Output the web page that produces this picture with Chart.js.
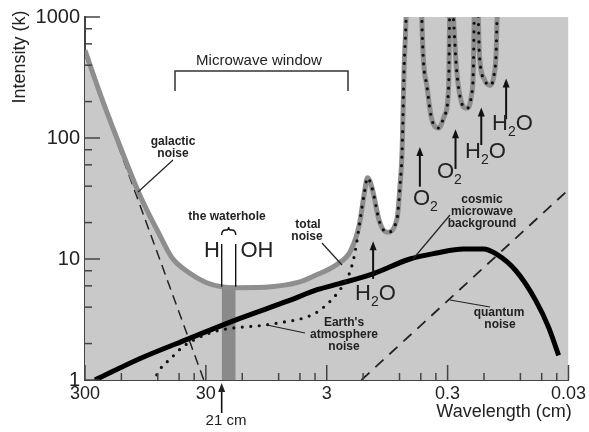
<!DOCTYPE html>
<html>
<head>
<meta charset="utf-8">
<script src="https://cdn.jsdelivr.net/npm/chart.js@4.4.1/dist/chart.umd.min.js"></script>
<style>
  html, body { margin: 0; padding: 0; background: #fff; }
</style>
</head>
<body>
<canvas id="chart" width="589" height="432"></canvas>
<script>
// axis ticks
const wavelengthTicks = [300, 30, 3, 0.3, 0.03];
const intensityTicks = [1, 10, 100, 1000];
const minorSteps = [2, 4, 6, 8];

// total noise, left of the absorption lines (wavelength cm, K)
const totalWl = [300, 226, 165, 110, 88, 72.8, 57, 41.3, 30, 22.2, 16.1, 8.63, 5.2, 3.75, 2.44, 1.91];
const totalK = [530, 235, 102, 37, 23, 16, 10.2, 7.7, 6.4, 5.9, 5.8, 5.9, 6.4, 7.3, 9.1, 11.6];

// earth's atmosphere noise, left of the absorption lines
const atmosWl = [83, 68.8, 60.4, 47.2, 34.2, 23.4, 16.1, 10.4, 7.14, 4.54, 3.55, 2.68, 2.3, 2.02, 1.84, 1.72];
const atmosK = [0.96, 1.3, 1.46, 1.86, 2.25, 2.57, 2.72, 2.82, 2.99, 3.28, 3.68, 4.7, 5.68, 6.98, 9.1, 12.5];

// absorption line region, shared by total and atmosphere noise
const linesWl = [1.61, 1.46, 1.38, 1.26, 1.1, 0.95, 0.785, 0.742, 0.714, 0.688, 0.662, 0.65, 0.495, 0.49,
  0.446, 0.406, 0.355, 0.318, 0.294, 0.289, 0.285, 0.268, 0.253, 0.23, 0.2095, 0.1906, 0.1837, 0.181,
  0.177, 0.167, 0.164, 0.149, 0.133, 0.124, 0.119, 0.117, 0.108, 0.03];
const linesK = [19.4, 36, 47, 38, 20.5, 16.6, 21.7, 41, 77, 368, 980, 2500, 2500, 955,
  272, 143, 121, 154, 272, 955, 2500, 955, 368, 196, 176, 225, 368, 955,
  2500, 955, 507, 305, 272, 328, 507, 955, 2500, 2500];

// cosmic microwave background
const cmbWl = [248, 106, 41.3, 16.1, 6.26, 3.55, 2.44, 1.26, 0.615, 0.369, 0.222, 0.152, 0.119, 0.0815, 0.0559, 0.0438, 0.0362];
const cmbK = [1.0, 1.5, 2.2, 3.2, 4.5, 5.6, 6.2, 7.5, 10, 11.2, 12.1, 12.1, 11.0, 7.97, 4.53, 2.72, 1.6];

// galactic and quantum noise (straight in log-log)
const galacticWl = [300, 31.2];
const galacticK = [488, 1];
const quantumWl = [1.55, 0.03];
const quantumK = [1, 37.4];

// opaque atmosphere band and the waterhole
const opaqueWl = [0.675, 0.03];
const opaqueK = [1000, 1000];
const waterholeWl = [22.2, 17.0];
const waterholeK = [5.9, 5.9];
const waterholeLineTopK = 13.3;

// spectral line arrows
const arrowWl = [1.24, 0.509, 0.258, 0.158, 0.0984];
const arrowFromK = [6.85, 39.6, 55.5, 87.6, 143];
const arrowToK = [14.0, 84.3, 118, 179, 311];
const arrowLabels = ['H2O', 'O2', 'O2', 'H2O', 'H2O'];
const arrowLabelPos = [[355, 300], [413, 205], [437, 178], [465, 158], [492, 130]];

const FONT = '"Liberation Sans", Arial, Helvetica, sans-serif';
const pts = (xs, ys) => xs.map((v, i) => ({ x: v, y: ys[i] }));

function chem(ctx, s, px, py) {
  let cx = px;
  ctx.textAlign = 'left';
  ctx.textBaseline = 'alphabetic';
  for (const ch of s) {
    const sub = /\d/.test(ch);
    ctx.font = (sub ? '14px ' : '22px ') + FONT;
    ctx.fillText(ch, cx, sub ? py + 6 : py);
    cx += ctx.measureText(ch).width;
  }
}

function arrow(ctx, px, y1, y2) {
  ctx.beginPath();
  ctx.moveTo(px, y1);
  ctx.lineTo(px, y2 + 6);
  ctx.stroke();
  ctx.beginPath();
  ctx.moveTo(px, y2);
  ctx.lineTo(px - 3.5, y2 + 9);
  ctx.lineTo(px + 3.5, y2 + 9);
  ctx.closePath();
  ctx.fill();
}

function seg(ctx, x1, y1, x2, y2) {
  ctx.beginPath();
  ctx.moveTo(x1, y1);
  ctx.lineTo(x2, y2);
  ctx.stroke();
}

const annotate = {
  id: 'annotate',
  afterDatasetsDraw(chart) {
    const { ctx, chartArea: a, scales: { x, y } } = chart;
    ctx.save();
    ctx.strokeStyle = '#444';
    ctx.fillStyle = '#222';
    ctx.lineWidth = 1.5;

    // inside ticks
    wavelengthTicks.forEach(v => {
      const px = x.getPixelForValue(v);
      seg(ctx, px, a.bottom, px, a.bottom - 15);
    });
    wavelengthTicks.slice(0, -1).forEach(v => minorSteps.forEach(k => {
      const px = x.getPixelForValue(v / k);
      seg(ctx, px, a.bottom, px, a.bottom - 7);
    }));
    intensityTicks.forEach(v => {
      const py = y.getPixelForValue(v);
      seg(ctx, a.left, py, a.left + 15, py);
    });
    intensityTicks.slice(0, -1).forEach(v => minorSteps.forEach(k => {
      const py = y.getPixelForValue(v * k);
      seg(ctx, a.left, py, a.left + 7, py);
    }));

    // axis titles
    ctx.textBaseline = 'middle';
    ctx.textAlign = 'center';
    ctx.font = '18px ' + FONT;
    ctx.fillText('Wavelength (cm)', 504, 412);
    ctx.save();
    ctx.translate(20, 57);
    ctx.rotate(-Math.PI / 2);
    ctx.fillText('Intensity (k)', 0, 0);
    ctx.restore();

    // microwave window bracket
    ctx.strokeStyle = '#333';
    ctx.lineWidth = 1.5;
    ctx.beginPath();
    ctx.moveTo(175, 91); ctx.lineTo(175, 71); ctx.lineTo(348, 71); ctx.lineTo(348, 91);
    ctx.stroke();
    ctx.font = '15px ' + FONT;
    ctx.fillText('Microwave window', 259, 61);

    // waterhole lines and brace
    const xa = x.getPixelForValue(waterholeWl[0]);
    const xb = x.getPixelForValue(waterholeWl[1]);
    const yb = y.getPixelForValue(waterholeK[0]);
    const yt = y.getPixelForValue(waterholeLineTopK);
    ctx.strokeStyle = '#111';
    ctx.lineWidth = 1.4;
    seg(ctx, xa, yb, xa, yt);
    seg(ctx, xb, yb, xb, yt);
    const xm = (xa + xb) / 2;
    ctx.beginPath();
    ctx.moveTo(xa, 235);
    ctx.quadraticCurveTo(xa, 230, xa + 4, 230);
    ctx.lineTo(xm - 2, 230);
    ctx.quadraticCurveTo(xm, 230, xm, 227);
    ctx.quadraticCurveTo(xm, 230, xm + 2, 230);
    ctx.lineTo(xb - 4, 230);
    ctx.quadraticCurveTo(xb, 230, xb, 235);
    ctx.stroke();
    ctx.font = '22px ' + FONT;
    ctx.textBaseline = 'alphabetic';
    ctx.fillText('H', 212, 257);
    ctx.fillText('OH', 257, 257);

    // 21 cm arrow below the axis
    ctx.lineWidth = 1.6;
    arrow(ctx, xa, 413, a.bottom + 3);
    ctx.textBaseline = 'middle';
    ctx.textAlign = 'center';
    ctx.font = '15px ' + FONT;
    ctx.fillText('21 cm', 226, 421);

    // bold small labels
    ctx.font = 'bold 12px ' + FONT;
    [['galactic', 173, 142], ['noise', 173, 154],
     ['the waterhole', 227, 217],
     ['total', 308, 225], ['noise', 307, 237],
     ['cosmic', 482, 200], ['microwave', 482, 212], ['background', 482, 224],
     ["Earth's", 344, 323], ['atmosphere', 344, 335], ['noise', 344, 347],
     ['quantum', 499, 313], ['noise', 500, 325]
    ].forEach(([s, px, py]) => ctx.fillText(s, px, py));

    // leader lines
    ctx.lineWidth = 1.2;
    ctx.strokeStyle = '#222';
    seg(ctx, 173, 160, 138, 192);
    seg(ctx, 322, 243, 342, 265);
    seg(ctx, 450, 215, 413, 259);
    seg(ctx, 267, 325, 305, 333);
    seg(ctx, 450, 300, 490, 307);

    // spectral line arrows
    ctx.strokeStyle = '#111';
    ctx.fillStyle = '#111';
    ctx.lineWidth = 2;
    arrowWl.forEach((wl, i) => {
      const px = x.getPixelForValue(wl);
      arrow(ctx, px, y.getPixelForValue(arrowFromK[i]), y.getPixelForValue(arrowToK[i]));
      ctx.fillStyle = '#222';
      chem(ctx, arrowLabels[i], arrowLabelPos[i][0], arrowLabelPos[i][1]);
      ctx.fillStyle = '#111';
    });
    ctx.restore();
  }
};

new Chart(document.getElementById('chart'), {
  type: 'line',
  data: {
    datasets: [
      {
        label: "Earth's atmosphere noise",
        data: pts(atmosWl.concat(linesWl), atmosK.concat(linesK)),
        borderColor: '#111', borderWidth: 3.2, borderDash: [0, 8.5], borderCapStyle: 'round',
        cubicInterpolationMode: 'monotone', pointRadius: 0, fill: false, order: 1
      },
      {
        label: 'total noise',
        data: pts(totalWl.concat(linesWl), totalK.concat(linesK)),
        borderColor: '#8e8e8e', borderWidth: 5, backgroundColor: '#c9c9c9',
        cubicInterpolationMode: 'monotone', pointRadius: 0, fill: 'start', order: 2
      },
      {
        label: 'cosmic microwave background',
        data: pts(cmbWl, cmbK),
        borderColor: '#000', borderWidth: 5,
        cubicInterpolationMode: 'monotone', pointRadius: 0, fill: false, order: 3
      },
      {
        label: 'quantum noise',
        data: pts(quantumWl, quantumK),
        borderColor: '#222', borderWidth: 1.8, borderDash: [11, 8],
        pointRadius: 0, fill: false, order: 4
      },
      {
        label: 'galactic noise',
        data: pts(galacticWl, galacticK),
        borderColor: '#222', borderWidth: 1.5, borderDash: [10, 6],
        pointRadius: 0, fill: false, order: 5
      },
      {
        label: 'waterhole',
        data: pts(waterholeWl, waterholeK),
        borderWidth: 0, backgroundColor: '#8a8a8a',
        pointRadius: 0, fill: 'start', order: 0
      },
      {
        label: 'opaque',
        data: pts(opaqueWl, opaqueK),
        borderWidth: 0, backgroundColor: '#c9c9c9',
        pointRadius: 0, fill: 'start', order: 9
      }
    ]
  },
  options: {
    responsive: false,
    animation: false,
    devicePixelRatio: 1,
    layout: { padding: { top: 15, right: 19, left: 0, bottom: 0 } },
    plugins: {
      legend: { display: false },
      tooltip: { enabled: false },
      filler: { drawTime: 'beforeDatasetsDraw' }
    },
    scales: {
      x: {
        type: 'logarithmic', reverse: true, min: 0.03, max: 300,
        afterBuildTicks: s => { s.ticks = wavelengthTicks.map(v => ({ value: v })); },
        afterFit: s => { s.height = 52; },
        grid: { display: false, drawTicks: false },
        border: { display: true, color: '#444', width: 2 },
        ticks: {
          autoSkip: false, maxRotation: 0, padding: 3, color: '#222',
          font: { family: FONT, size: 18 },
          callback: v => String(v)
        }
      },
      y: {
        type: 'logarithmic', min: 1, max: 1000,
        afterBuildTicks: s => { s.ticks = intensityTicks.map(v => ({ value: v })); },
        afterFit: s => { s.width = 85; },
        grid: { display: false, drawTicks: false },
        border: { display: true, color: '#444', width: 2 },
        ticks: {
          padding: 5, color: '#222',
          font: { family: FONT, size: 20 },
          callback: v => String(v)
        }
      }
    }
  },
  plugins: [annotate]
});
</script>
</body>
</html>
